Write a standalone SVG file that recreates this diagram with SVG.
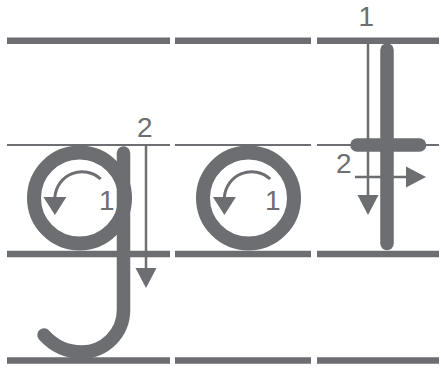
<svg xmlns="http://www.w3.org/2000/svg" width="441" height="372" viewBox="0 0 441 372">
<style>
.thick{stroke:#6d6e71;stroke-width:6.5;fill:none}
.thin{stroke:#6d6e71;stroke-width:2;fill:none}
.ring{stroke:#6d6e71;stroke-width:14;fill:none}
.stroke{stroke:#6d6e71;stroke-width:13.5;fill:none;stroke-linecap:round;stroke-linejoin:round}
.arr{stroke:#6d6e71;stroke-width:2.5;fill:none}
.curv{stroke:#6d6e71;stroke-width:3;fill:none}
.lbl{font-family:"Liberation Sans",Arial,sans-serif;font-size:28px;fill:#6d6e71}
</style>
<defs>
<marker id="head" markerUnits="userSpaceOnUse" viewBox="0 -11 20 22" markerWidth="20" markerHeight="22" refX="0" refY="0" orient="auto">
<path d="M0,-10.5 L20,0 L0,10.5 z" fill="#6d6e71"/>
</marker>
<marker id="chead" markerUnits="userSpaceOnUse" viewBox="0 -12 18 24" markerWidth="18" markerHeight="24" refX="0" refY="0" orient="90">
<path d="M0,-11.5 L18,0 L0,11.5 z" fill="#6d6e71"/>
</marker>
</defs>
<rect width="441" height="372" fill="#ffffff"/>
<g id="guides">
<path class="thick" d="M7,40.75H170M175,40.75H311M317,40.75H439"/>
<path class="thin" d="M7,145H170M175,145H311M317,145H439"/>
<path class="thick" d="M7,254H170M175,254H311M317,254H439"/>
<path class="thick" d="M7,360.5H170M175,360.5H311M317,360.5H439"/>
</g>
<g id="letter-g">
<circle class="ring" cx="79.5" cy="198" r="45.5"/>
<path class="stroke" d="M123.5,153V310A42,42 0 0 1 81.5,352C67,352 54,346 44,335"/>
</g>
<g id="letter-o">
<circle class="ring" cx="248.5" cy="198" r="45.5"/>
</g>
<g id="letter-t">
<path class="stroke" d="M387,50V243.5"/>
<path class="stroke" d="M357,145H419.5"/>
</g>
<g id="connectors">
<path class="curv" d="M100.7,179A27.3,27.3 0 0 0 54.9,197" marker-end="url(#chead)"/>
<path class="curv" d="M270.2,179A27.3,27.3 0 0 0 224.4,197" marker-end="url(#chead)"/>
<path class="arr" d="M146,145V268" marker-end="url(#head)"/>
<path class="arr" d="M368,42V195" marker-end="url(#head)"/>
<path class="arr" d="M355,177H406" marker-end="url(#head)"/>
</g>
<g id="labels">
<text class="lbl" x="99" y="210">1</text>
<text class="lbl" x="265" y="210">1</text>
<text class="lbl" x="137" y="137">2</text>
<text class="lbl" x="358.5" y="26">1</text>
<text class="lbl" x="336" y="173">2</text>
</g>
</svg>
